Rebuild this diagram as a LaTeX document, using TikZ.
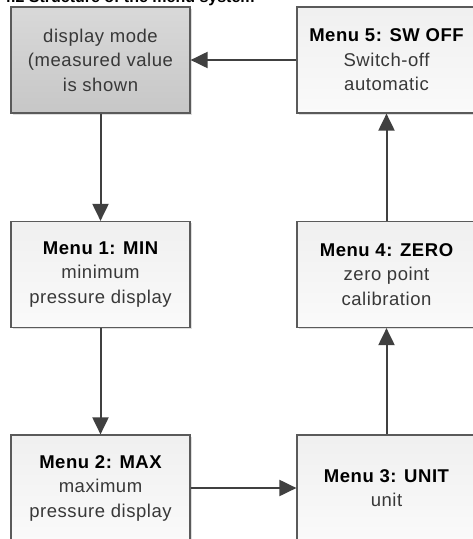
\documentclass[tikz,border=0pt]{standalone}
\usepackage{fontspec}
\setmainfont{Liberation Sans}[LetterSpace=3]
\newfontfamily\titlefont{Liberation Sans}
\usetikzlibrary{arrows.meta,shadows}
\definecolor{boxborder}{HTML}{5A5A5A}
\definecolor{arrowcol}{HTML}{404040}
\definecolor{txtcol}{HTML}{383838}
\tikzset{
  menubox/.style={rectangle, draw=boxborder, line width=1.2pt,
    minimum width=179pt, minimum height=106pt, inner sep=0pt,
    align=center, text=txtcol,
    font=\fontsize{18.5}{24.5}\selectfont,
    top color=black!6, bottom color=black!2,
    drop shadow={shadow xshift=1.5pt, shadow yshift=-1.5pt, fill=black!25, opacity=0.5}},
  displaybox/.style={menubox, top color=black!15, bottom color=black!22},
  flow/.style={draw=arrowcol, line width=2pt, -{Triangle[length=17pt,width=16pt]}},
  titletext/.style={anchor=base west, inner sep=0pt, font=\titlefont\fontsize{16}{18}\selectfont\bfseries}
}
\begin{document}
\begin{tikzpicture}[x=1pt,y=-1pt]
\useasboundingbox (0,0) rectangle (473,539);
\clip (0,0) rectangle (473,539);
\fill[white] (0,0) rectangle (473,539);
\node[titletext] (title) at (2,2.5) {4.2 Structure of the menu system};
\node[displaybox] (disp) at (100.5,60) {display mode\\(measured value\\is shown};
\node[menubox] (m5) at (386.5,60) {\textbf{\color{black}Menu 5: SW OFF}\\Switch-off\\automatic};
\node[menubox] (m1) at (100.5,274.5) {\textbf{\color{black}Menu 1: MIN}\\minimum\\pressure display};
\node[menubox] (m4) at (386.5,274.5) {\textbf{\color{black}Menu 4: ZERO}\\zero point\\calibration};
\node[menubox] (m2) at (100.5,488) {\textbf{\color{black}Menu 2: MAX}\\maximum\\pressure display};
\node[menubox] (m3) at (386.5,488) {\textbf{\color{black}Menu 3: UNIT}\\unit};
\draw[flow] (disp) -- (m1);
\draw[flow] (m1) -- (m2);
\draw[flow] (m2) -- (m3);
\draw[flow] (m3) -- (m4);
\draw[flow] (m4) -- (m5);
\draw[flow] (m5) -- (disp);
\end{tikzpicture}
\end{document}
